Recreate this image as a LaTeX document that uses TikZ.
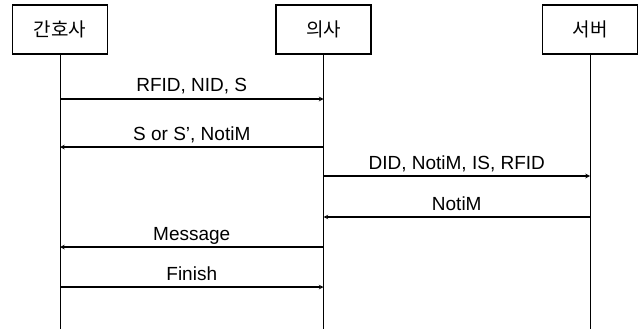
\documentclass[tikz,border=0pt]{standalone}
\usepackage{fontspec}
\setmainfont{Liberation Sans}
\newfontfamily\korfont{Noto Sans CJK KR}
\usetikzlibrary{arrows,positioning,calc}

\begin{document}
\begin{tikzpicture}[
    x=1pt, y=-1pt,
    actor/.style={rectangle, draw=black, line width=1.1pt, minimum width=95pt, minimum height=49pt, font=\korfont\fontsize{19}{21}\selectfont},
    lifeline/.style={draw=black, line width=0.7pt},
    arrow/.style={->,>=stealth,line width=1.1pt},
    msg/.style={midway, anchor=base, yshift=7pt, font=\fontsize{19}{21}\selectfont}
]
\useasboundingbox (0,0) rectangle (643,329);

% participants
\node[actor] (nurse) at (60,29.5) {간호사};
\node[actor] (doctor) at (323.5,29.5) {의사};
\node[actor] (server) at (590,29.5) {서버};

% lifelines
\coordinate (nurseend) at (nurse.south |- 0,329);
\coordinate (doctorend) at (doctor.south |- 0,329);
\coordinate (serverend) at (server.south |- 0,329);
\draw[lifeline] (nurse.south) -- (nurseend);
\draw[lifeline] (doctor.south) -- (doctorend);
\draw[lifeline] (server.south) -- (serverend);

% message points
\coordinate (n1) at (nurse.south |- 0,99);
\coordinate (d1) at (doctor.south |- 0,99);
\coordinate (n2) at (nurse.south |- 0,147);
\coordinate (d2) at (doctor.south |- 0,147);
\coordinate (d3) at (doctor.south |- 0,176);
\coordinate (s3) at (server.south |- 0,176);
\coordinate (d4) at (doctor.south |- 0,217);
\coordinate (s4) at (server.south |- 0,217);
\coordinate (n5) at (nurse.south |- 0,247);
\coordinate (d5) at (doctor.south |- 0,247);
\coordinate (n6) at (nurse.south |- 0,287);
\coordinate (d6) at (doctor.south |- 0,287);

% messages
\draw[arrow] (n1) -- node[msg] {RFID, NID, S} (d1);
\draw[arrow] (d2) -- node[msg] {S or S', NotiM} (n2);
\draw[arrow] (d3) -- node[msg] {DID, NotiM, IS, RFID} (s3);
\draw[arrow] (s4) -- node[msg] {NotiM} (d4);
\draw[arrow] (d5) -- node[msg] {Message} (n5);
\draw[arrow] (n6) -- node[msg] {Finish} (d6);

\end{tikzpicture}
\end{document}
